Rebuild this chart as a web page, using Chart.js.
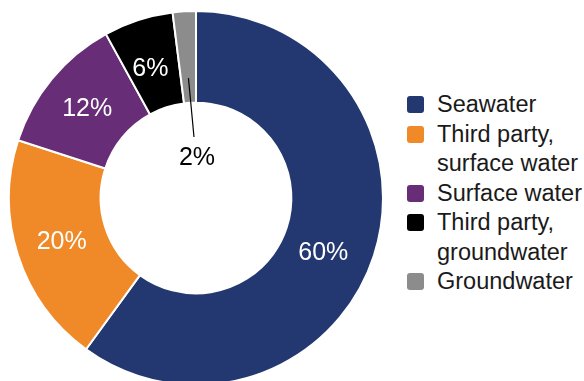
<!DOCTYPE html>
<html lang="en">
<head>
  <meta charset="UTF-8">
  <title>Water withdrawal by source</title>
  <script src="https://cdn.jsdelivr.net/npm/chart.js"></script>
  <style>
    html, body { margin: 0; padding: 0; width: 584px; height: 381px; overflow: hidden; background: #fff; }
    body { position: relative; font-family: "Liberation Sans", Arial, Helvetica, sans-serif; }
    .chart-box { position: absolute; left: 0; top: 0; width: 392px; height: 396px; }
    #legend { position: absolute; left: 407px; top: 90px; margin: 0; padding: 0; list-style: none; }
    #legend li { display: flex; align-items: flex-start; font-size: 23.5px; line-height: 29.5px; color: #1a1a1a; }
    #legend .box { width: 17px; height: 17px; border-radius: 3px; margin: 6px 13px 0 0; flex: none; }
  </style>
</head>
<body>
  <div class="chart-box"><canvas id="waterChart"></canvas></div>
  <ul id="legend"></ul>

  <script>
    // データ
    const sources = ['Seawater', 'Third party, surface water', 'Surface water', 'Third party, groundwater', 'Groundwater'];
    const legendLines = [['Seawater'], ['Third party,', 'surface water'], ['Surface water'], ['Third party,', 'groundwater'], ['Groundwater']];
    const shares = [60, 20, 12, 6, 2];
    const colors = ['#233870', '#f08a28', '#682d77', '#000000', '#8c8c8c'];
    const labelColors = ['#ffffff', '#ffffff', '#ffffff', '#ffffff', '#000000'];

    // HTML凡例
    const legend = document.getElementById('legend');
    legendLines.forEach((lines, i) => {
      const li = document.createElement('li');
      const box = document.createElement('span');
      box.className = 'box';
      box.style.background = colors[i];
      const txt = document.createElement('span');
      txt.innerHTML = lines.join('<br>');
      li.appendChild(box);
      li.appendChild(txt);
      legend.appendChild(li);
    });

    // 割合ラベル（最小のスライスは中央に引き出し線付き）
    const sliceLabels = {
      id: 'sliceLabels',
      afterDatasetsDraw(chart) {
        const ctx = chart.ctx;
        const meta = chart.getDatasetMeta(0);
        const nudge = [[-7, 11], [0, 0], [0, 1], [-2, 5], [0, 0]];
        ctx.save();
        ctx.font = '25px "Liberation Sans", Arial, Helvetica, sans-serif';
        ctx.textAlign = 'center';
        ctx.textBaseline = 'middle';
        meta.data.forEach((arc, i) => {
          const text = shares[i] + '%';
          ctx.fillStyle = labelColors[i];
          if (i === shares.length - 1) {
            const mid = (arc.startAngle + arc.endAngle) / 2;
            const r = arc.innerRadius + (arc.outerRadius - arc.innerRadius) * 0.27;
            const sx = arc.x + Math.cos(mid) * r;
            const sy = arc.y + Math.sin(mid) * r;
            ctx.strokeStyle = '#000';
            ctx.lineWidth = 1.2;
            ctx.beginPath();
            ctx.moveTo(sx, sy);
            ctx.lineTo(arc.x - 2, arc.y - 61);
            ctx.stroke();
            ctx.fillText(text, arc.x + 1, arc.y - 40);
          } else {
            const p = arc.tooltipPosition();
            ctx.fillText(text, p.x + nudge[i][0], p.y + nudge[i][1]);
          }
        });
        ctx.restore();
      }
    };

    new Chart(document.getElementById('waterChart'), {
      type: 'doughnut',
      data: {
        labels: sources,
        datasets: [{
          data: shares,
          backgroundColor: colors,
          borderColor: '#ffffff',
          borderWidth: 2
        }]
      },
      options: {
        responsive: true,
        maintainAspectRatio: false,
        animation: false,
        cutout: '51%',
        layout: { padding: { left: 8, right: 8, top: 10, bottom: 10 } },
        plugins: {
          legend: { display: false },
          tooltip: { enabled: false }
        }
      },
      plugins: [sliceLabels]
    });
  </script>
</body>
</html>
